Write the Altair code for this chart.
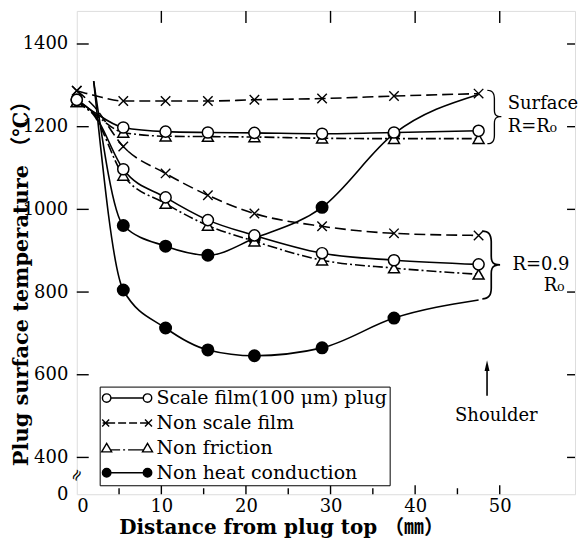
import altair as alt
import pandas as pd

# ---------------- data ----------------
series_names = ["Scale film(100 μm) plug", "Non scale film", "Non friction", "Non heat conduction"]

x_main = [0, 2, 5.5, 10.5, 15.5, 21, 29, 37.5, 47.5]
marked_main = [True, False, True, True, True, True, True, True, True]
scale_surface = [1265, 1236, 1198, 1188, 1186, 1185, 1183, 1186, 1190]
scale_inner = [1265, 1232, 1097, 1029, 974, 937, 894, 877, 867]
nonscale_surface = [1287, 1276, 1262, 1262, 1262, 1265, 1268, 1274, 1280]
nonscale_inner = [1287, 1250, 1152, 1087, 1034, 990, 959, 942, 937]
friction_surface = [1260, 1232, 1186, 1177, 1176, 1175, 1172, 1171, 1171]
friction_inner = [1260, 1228, 1082, 1014, 961, 923, 877, 858, 843]

x_heat = [2, 5.5, 10.5, 15.5, 21, 29, 37.5, 47.5]
marked_heat = [False, True, True, True, True, True, True, False]
heat_surface = [1310, 961, 911, 889, 930, 1005, 1183, 1278]
heat_inner = [1310, 805, 713, 660, 646, 665, 737, 781]

y_ticks = [400, 600, 800, 1000, 1200, 1400]
x_labels = [0, 10, 20, 30, 40, 50]
x_major_ticks = [10, 20, 30, 40, 50]
x_minor_ticks = [5, 15, 25, 35, 45]

ann_text = ["Surface", "R=R₀", "R=0.9", "R₀"]
ann_x = [50.95, 50.95, 51.5, 55.2]
ann_y = [1255, 1200, 865, 815]
brace_x = [50.8, 50.8]
brace_y = [1222, 862]
shoulder_x = [49.6]
shoulder_y = [501]
arrow_x = [48.5]
arrow_tail = [549]
arrow_head = [622]

rows = []


def add(series, curve, xs, ys, marks):
    for xv, yv, mv in zip(xs, ys, marks):
        rows.append(dict(series=series, curve=curve, x=xv, y=yv, marked=mv))


S, N, F, Hh = series_names
add(S, "surface", x_main, scale_surface, marked_main)
add(S, "inner", x_main, scale_inner, marked_main)
add(N, "surface", x_main, nonscale_surface, marked_main)
add(N, "inner", x_main, nonscale_inner, marked_main)
add(F, "surface", x_main, friction_surface, marked_main)
add(F, "inner", x_main, friction_inner, marked_main)
add(Hh, "surface", x_heat, heat_surface, marked_heat)
add(Hh, "inner", x_heat, heat_inner, marked_heat)
df = pd.DataFrame(rows)

# ---------------- styling ----------------
W, H = 500, 485
FONT = "DejaVu Serif, Noto Sans CJK JP"
xs = alt.Scale(domain=[0, 58.9], nice=False, zero=False)
ys = alt.Scale(domain=[311, 1480], nice=False, zero=False)

X = alt.X(
    "x:Q", scale=xs,
    title="Distance from plug top （㎜）",
    axis=alt.Axis(values=x_labels, ticks=False, domain=False, grid=False,
                  labelFont=FONT, labelFontSize=18, labelPadding=3, labelColor="black",
                  titleFont=FONT, titleFontSize=20, titleFontWeight="bold", titleColor="black",
                  titleX=205, titleY=33, titleAlign="center", titleBaseline="middle"),
)
Y = alt.Y(
    "y:Q", scale=ys,
    title="Plug surface temperature （℃）",
    axis=alt.Axis(values=[311] + y_ticks, format="d",
                  labelExpr="datum.value < 350 ? '0' : datum.label",
                  ticks=False, domain=False, grid=False,
                  labelFont=FONT, labelFontSize=18, labelPadding=9, labelColor="black",
                  titleFont=FONT, titleFontSize=21, titleFontWeight="bold", titleColor="black",
                  titleAngle=270, titleX=-55, titleY=268, titleAlign="center", titleBaseline="middle"),
)

X_PATH = "M-1,-1L1,1M-1,1L1,-1"
dashes = {S: None, N: [11, 5], F: [10, 3, 2, 3], Hh: None}

layers = []
base = alt.Chart(df)
for s in series_names:
    kw = dict(interpolate="monotone", color="black", strokeWidth=1.6)
    if dashes[s]:
        kw["strokeDash"] = dashes[s]
    layers.append(
        base.transform_filter(alt.datum.series == s)
        .mark_line(**kw)
        .encode(x=X, y=Y, detail="curve:N")
    )


def pts(s, **kw):
    return (base.transform_filter((alt.datum.series == s) & (alt.datum.marked == True))
            .mark_point(opacity=1, **kw).encode(x=X, y=Y))


layers.append(pts(Hh, shape="circle", filled=True, color="black", size=170))
layers.append(pts(F, shape="triangle-up", fill="white", stroke="black", strokeWidth=1.5, size=120))
layers.append(pts(S, shape="circle", fill="white", stroke="black", strokeWidth=1.5, size=125))
layers.append(pts(N, shape=X_PATH, stroke="black", strokeWidth=1.4, size=90))

# inward ticks of the frame
ydf = pd.DataFrame({"y": y_ticks})
layers.append(alt.Chart(ydf).mark_rule(color="black", strokeWidth=1.4)
              .encode(y=Y, x=alt.value(0), x2=alt.value(12)))
layers.append(alt.Chart(ydf).mark_rule(color="black", strokeWidth=1.4)
              .encode(y=Y, x=alt.value(W - 8), x2=alt.value(W)))
layers.append(alt.Chart(pd.DataFrame({"x": x_major_ticks})).mark_rule(color="black", strokeWidth=1.4)
              .encode(x=X, y=alt.value(H), y2=alt.value(H - 9)))
layers.append(alt.Chart(pd.DataFrame({"x": x_minor_ticks})).mark_rule(color="black", strokeWidth=1.4)
              .encode(x=X, y=alt.value(H), y2=alt.value(H - 6)))
layers.append(alt.Chart(pd.DataFrame({"x": x_major_ticks})).mark_rule(color="black", strokeWidth=1.4)
              .encode(x=X, y=alt.value(0), y2=alt.value(12)))

# axis break mark
layers.append(alt.Chart(pd.DataFrame({"x": [0], "y": [357]}))
              .mark_text(text="≈", font="DejaVu Sans", fontSize=16, color="black", angle=300)
              .encode(x=X, y=Y))

# annotations
ann = pd.DataFrame({"t": ann_text, "x": ann_x, "y": ann_y})
layers.append(alt.Chart(ann).mark_text(font=FONT, fontSize=18, align="left", baseline="middle", color="black")
              .encode(x=X, y=Y, text="t:N"))
bdf = pd.DataFrame({"x": brace_x, "y": brace_y, "sz": [60, 76]})
layers.append(alt.Chart(bdf).mark_text(text="}", font="Inter", fontWeight=100, align="right",
                                       baseline="middle", color="black")
              .encode(x=X, y=Y, size=alt.Size("sz:Q", scale=None, legend=None)))
layers.append(alt.Chart(pd.DataFrame({"x": shoulder_x, "y": shoulder_y}))
              .mark_text(text="Shoulder", font=FONT, fontSize=18, align="center", baseline="middle", color="black")
              .encode(x=X, y=Y))
adf = pd.DataFrame({"x": arrow_x, "y": arrow_tail, "y2": arrow_head})
layers.append(alt.Chart(adf).mark_rule(color="black", strokeWidth=1.6)
              .encode(x=X, y=Y, y2="y2:Q"))
hdf = pd.DataFrame({"x": arrow_x, "y": arrow_head})
layers.append(alt.Chart(hdf).mark_point(shape="M0,-1L0.45,1L-0.45,1Z", filled=True, color="black",
                                        opacity=1, size=120)
              .encode(x=X, y=Y))

# legend (custom symbols)
legend_paths = [
    "M-4.95,0A0.85,0.85 0 1 1 -3.25,0A0.85,0.85 0 1 1 -4.95,0ZM-3.25,0L3.25,0M3.25,0A0.85,0.85 0 1 1 4.95,0A0.85,0.85 0 1 1 3.25,0Z",
    "M-5,-0.7L-3.6,0.7M-5,0.7L-3.6,-0.7M-4.9,0L-2.4,0M-1.8,0L-0.2,0M0.4,0L2,0M2.6,0L4.3,0M3.6,-0.7L5,0.7M3.6,0.7L5,-0.7",
    "M-4.1,-0.9L-3.1,0.8L-5.1,0.8ZM-3.4,0.4L-1.4,0.4M-0.8,0.4L-0.4,0.4M0.2,0.4L3.4,0.4M4.1,-0.9L5.1,0.8L3.1,0.8Z",
    "M-4.95,0A0.85,0.85 0 1 1 -3.25,0A0.85,0.85 0 1 1 -4.95,0ZM-3.25,0L3.25,0M3.25,0A0.85,0.85 0 1 1 4.95,0A0.85,0.85 0 1 1 3.25,0Z",
]
leg = alt.Legend(title=None, orient="none", legendX=23, legendY=377, direction="vertical",
                 symbolSize=100, symbolStrokeWidth=1.4, symbolStrokeColor="black",
                 symbolOffset=16, labelOffset=20, labelFont=FONT, labelFontSize=19,
                 labelColor="black", labelLimit=400, rowPadding=5, padding=2,
                 strokeColor="black", fillColor="white")
layers.append(
    base.transform_filter("false")
    .mark_point(opacity=1, strokeWidth=1.4)
    .encode(
        x=X, y=Y,
        shape=alt.Shape("series:N", scale=alt.Scale(domain=series_names, range=legend_paths), legend=leg),
        fill=alt.Fill("series:N", scale=alt.Scale(domain=series_names, range=["white", "white", "white", "black"]),
                      legend=leg),
        stroke=alt.Stroke("series:N", scale=alt.Scale(domain=series_names, range=["black"] * 4), legend=leg),
    )
)

chart = (
    alt.layer(*layers)
    .properties(width=W, height=H, padding={"left": 69, "top": 2, "right": 5, "bottom": 44},
                autosize=alt.AutoSizeParams(type="none"))
    .configure_view(stroke="black", strokeWidth=1.6)
    .configure(background="white")
)

chart.save("out.html", embed_options={"renderer": "svg", "actions": False})
